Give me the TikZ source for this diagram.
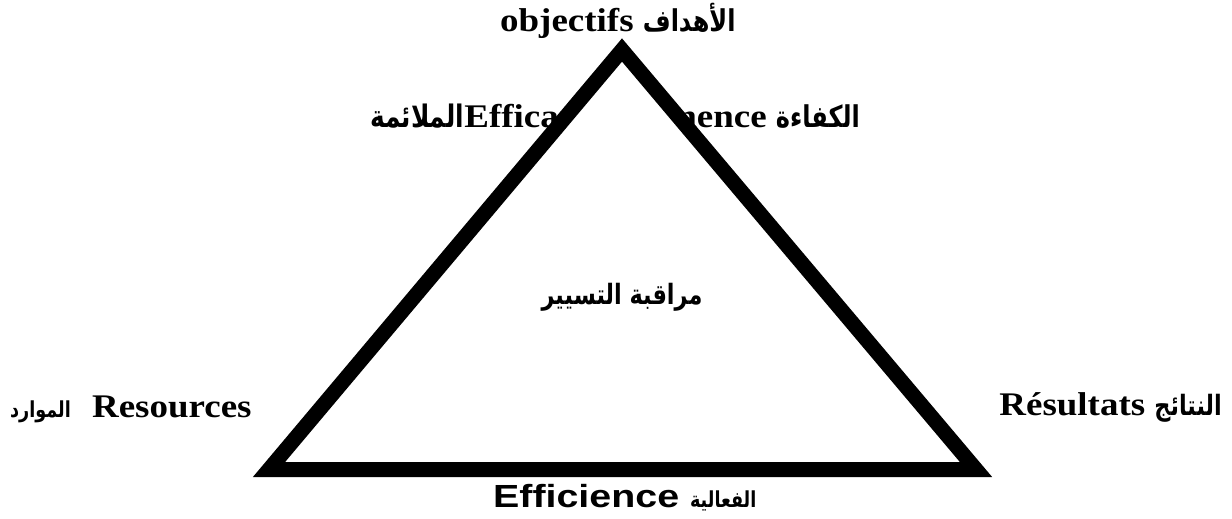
\documentclass[tikz,border=0pt]{standalone}
\usepackage{fontspec}
\setmainfont[FakeStretch=1.12]{Liberation Serif}
\setsansfont[FakeStretch=1.23]{Liberation Sans}
\newfontfamily\arabicfont[Script=Arabic, FakeStretch=0.8]{DejaVu Sans}
\TeXXeTstate=1
\newcommand\artxt[2][24]{{\arabicfont\fontsize{#1}{#1}\selectfont\beginR #2\endR}}
\begin{document}
\begin{tikzpicture}[x=1pt, y=-1pt,
    lbl/.style={inner sep=0pt, font=\bfseries\fontsize{33}{38}\selectfont},
    sanslbl/.style={inner sep=0pt, font=\sffamily\bfseries\fontsize{32}{38}\selectfont}]
    \useasboundingbox (0,0) rectangle (1232,519);
    \def\lw{15pt}

    \coordinate (apex) at (622,50);
    \coordinate (left) at (269,469.5);
    \coordinate (right) at (976,469.5);

    % labels partly hidden by the triangle
    \node[lbl, anchor=base west] (eff) at (370,128) {\artxt[31]{الملائمة}Efficacité};
    \node[lbl, anchor=base east] (pert) at (860,128) {Pertinence \artxt[30]{الكفاءة}};

    \draw[line width=\lw, miter limit=10, fill=white] (apex) -- (left) -- (right) -- cycle;

    \node[lbl, anchor=base west] (obj) at (500,32) {objectifs \artxt[30]{الأهداف}};
    \node[sanslbl] (ctrl) at (622,297) {\artxt[28]{مراقبة التسيير}};
    \node[lbl, anchor=base west] (res) at (10,417) {\artxt[22]{الموارد}\hspace{12pt} Resources};
    \node[lbl, anchor=base east] (out) at (1222,415) {Résultats \artxt[28]{النتائج}};
    \node[sanslbl, anchor=base west] (effi) at (493,507) {Efficience \artxt[22]{الفعالية}};
\end{tikzpicture}
\end{document}
